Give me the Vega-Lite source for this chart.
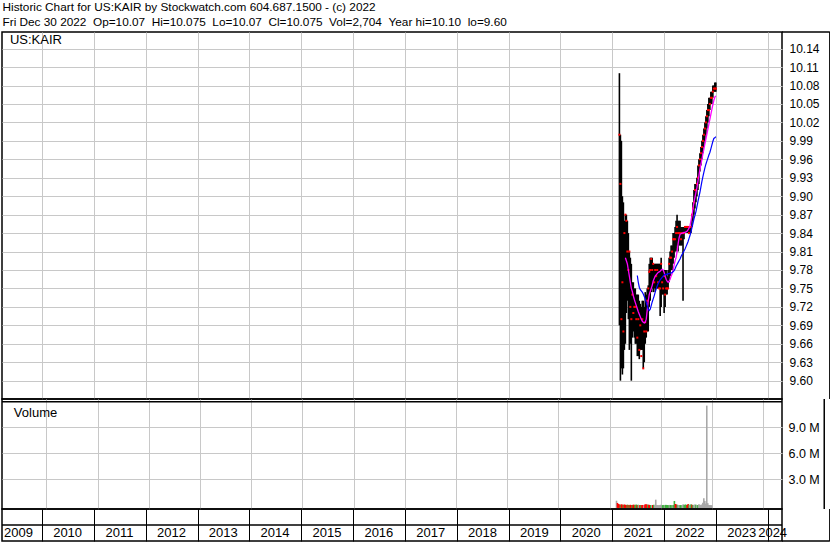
{
  "$schema": "https://vega.github.io/schema/vega-lite/v6.json",
  "padding": {"left": 0, "top": 2, "right": 0, "bottom": 0},
  "background": "white",
  "title": {
    "text": ["Historic Chart for US:KAIR by Stockwatch.com 604.687.1500 - (c) 2022", "Fri Dec 30 2022 \u00a0Op=10.07 \u00a0Hi=10.075 \u00a0Lo=10.07 \u00a0Cl=10.075 \u00a0Vol=2,704 \u00a0Year hi=10.10 \u00a0lo=9.60"],
    "anchor": "start", "font": "Liberation Sans", "fontSize": 11.8, "fontWeight": "normal", "color": "black", "lineHeight": 14.4, "offset": 2, "dx": 2
  },
  "datasets": {
    "w": [
      {"d":"2021-02-19","hi":10.10,"lo":9.69,"cl":10.00,"m1":null,"m2":null,"vol":530000,"dir":"flat"},
      {"d":"2021-02-26","hi":10.00,"lo":9.60,"cl":9.92,"m1":null,"m2":null,"vol":270000,"dir":"down"},
      {"d":"2021-03-05","hi":9.99,"lo":9.62,"cl":9.70,"m1":null,"m2":null,"vol":150000,"dir":"down"},
      {"d":"2021-03-12","hi":9.90,"lo":9.61,"cl":9.76,"m1":null,"m2":null,"vol":100000,"dir":"down"},
      {"d":"2021-03-19","hi":9.89,"lo":9.62,"cl":9.68,"m1":null,"m2":null,"vol":60000,"dir":"up"},
      {"d":"2021-03-26","hi":9.86,"lo":9.65,"cl":9.84,"m1":null,"m2":null,"vol":110000,"dir":"down"},
      {"d":"2021-04-02","hi":9.87,"lo":9.66,"cl":9.87,"m1":9.80,"m2":null,"vol":80000,"dir":"down"},
      {"d":"2021-04-09","hi":9.87,"lo":9.71,"cl":9.86,"m1":9.795,"m2":null,"vol":50000,"dir":"up"},
      {"d":"2021-04-16","hi":9.86,"lo":9.73,"cl":9.81,"m1":9.79,"m2":null,"vol":90000,"dir":"down"},
      {"d":"2021-04-23","hi":9.84,"lo":9.70,"cl":9.78,"m1":9.78,"m2":null,"vol":60000,"dir":"down"},
      {"d":"2021-04-30","hi":9.81,"lo":9.65,"cl":9.81,"m1":9.77,"m2":null,"vol":40000,"dir":"down"},
      {"d":"2021-05-07","hi":9.80,"lo":9.66,"cl":9.72,"m1":9.76,"m2":null,"vol":70000,"dir":"up"},
      {"d":"2021-05-14","hi":9.79,"lo":9.60,"cl":9.70,"m1":9.75,"m2":null,"vol":50000,"dir":"down"},
      {"d":"2021-05-21","hi":9.76,"lo":9.67,"cl":9.74,"m1":9.745,"m2":null,"vol":30000,"dir":"up"},
      {"d":"2021-05-28","hi":9.76,"lo":9.68,"cl":9.71,"m1":9.738,"m2":null,"vol":60000,"dir":"down"},
      {"d":"2021-06-04","hi":9.75,"lo":9.67,"cl":9.72,"m1":9.732,"m2":null,"vol":40000,"dir":"down"},
      {"d":"2021-06-11","hi":9.75,"lo":9.66,"cl":9.72,"m1":9.727,"m2":null,"vol":30000,"dir":"up"},
      {"d":"2021-06-18","hi":9.74,"lo":9.66,"cl":9.70,"m1":9.722,"m2":null,"vol":50000,"dir":"down"},
      {"d":"2021-06-25","hi":9.74,"lo":9.64,"cl":9.67,"m1":9.717,"m2":9.771,"vol":60000,"dir":"down"},
      {"d":"2021-07-02","hi":9.74,"lo":9.64,"cl":9.70,"m1":9.712,"m2":9.76,"vol":40000,"dir":"up"},
      {"d":"2021-07-09","hi":9.73,"lo":9.635,"cl":9.65,"m1":9.708,"m2":9.752,"vol":80000,"dir":"up"},
      {"d":"2021-07-16","hi":9.725,"lo":9.65,"cl":9.69,"m1":9.704,"m2":9.748,"vol":30000,"dir":"down"},
      {"d":"2021-07-23","hi":9.72,"lo":9.65,"cl":9.64,"m1":9.70,"m2":9.746,"vol":50000,"dir":"up"},
      {"d":"2021-07-30","hi":9.73,"lo":9.65,"cl":9.70,"m1":9.697,"m2":9.744,"vol":40000,"dir":"flat"},
      {"d":"2021-08-06","hi":9.73,"lo":9.62,"cl":9.62,"m1":9.695,"m2":9.741,"vol":30000,"dir":"down"},
      {"d":"2021-08-13","hi":9.72,"lo":9.63,"cl":9.68,"m1":9.694,"m2":9.737,"vol":20000,"dir":"up"},
      {"d":"2021-08-20","hi":9.744,"lo":9.66,"cl":9.695,"m1":9.695,"m2":9.733,"vol":30000,"dir":"down"},
      {"d":"2021-08-27","hi":9.74,"lo":9.67,"cl":9.68,"m1":9.70,"m2":9.727,"vol":40000,"dir":"down"},
      {"d":"2021-09-03","hi":9.75,"lo":9.68,"cl":9.73,"m1":9.715,"m2":9.722,"vol":20000,"dir":"flat"},
      {"d":"2021-09-10","hi":9.755,"lo":9.68,"cl":9.75,"m1":9.73,"m2":9.716,"vol":100000,"dir":"down"},
      {"d":"2021-09-17","hi":9.79,"lo":9.72,"cl":9.777,"m1":9.74,"m2":9.714,"vol":110000,"dir":"down"},
      {"d":"2021-09-24","hi":9.80,"lo":9.73,"cl":9.78,"m1":9.745,"m2":9.716,"vol":90000,"dir":"down"},
      {"d":"2021-10-01","hi":9.80,"lo":9.744,"cl":9.798,"m1":9.75,"m2":9.722,"vol":70000,"dir":"up"},
      {"d":"2021-10-08","hi":9.80,"lo":9.75,"cl":9.78,"m1":9.755,"m2":9.728,"vol":50000,"dir":"down"},
      {"d":"2021-10-15","hi":9.79,"lo":9.744,"cl":9.79,"m1":9.762,"m2":9.733,"vol":40000,"dir":"down"},
      {"d":"2021-10-22","hi":9.79,"lo":9.75,"cl":9.76,"m1":9.766,"m2":9.738,"vol":30000,"dir":"up"},
      {"d":"2021-10-29","hi":9.79,"lo":9.744,"cl":9.78,"m1":9.77,"m2":9.744,"vol":20000,"dir":"flat"},
      {"d":"2021-11-05","hi":9.79,"lo":9.75,"cl":9.77,"m1":9.772,"m2":9.749,"vol":40000,"dir":"down"},
      {"d":"2021-11-12","hi":9.79,"lo":9.75,"cl":9.78,"m1":9.774,"m2":9.754,"vol":60000,"dir":"up"},
      {"d":"2021-11-19","hi":9.79,"lo":9.75,"cl":9.76,"m1":9.776,"m2":9.758,"vol":30000,"dir":"flat"},
      {"d":"2021-11-26","hi":9.79,"lo":9.75,"cl":9.75,"m1":9.777,"m2":9.761,"vol":650000,"dir":"flat"},
      {"d":"2021-12-03","hi":9.79,"lo":9.705,"cl":9.75,"m1":9.778,"m2":9.764,"vol":40000,"dir":"flat"},
      {"d":"2021-12-10","hi":9.80,"lo":9.72,"cl":9.79,"m1":9.78,"m2":9.766,"vol":30000,"dir":"flat"},
      {"d":"2021-12-17","hi":9.78,"lo":9.74,"cl":9.76,"m1":9.781,"m2":9.768,"vol":20000,"dir":"flat"},
      {"d":"2021-12-24","hi":9.78,"lo":9.74,"cl":9.75,"m1":9.78,"m2":9.77,"vol":30000,"dir":"flat"},
      {"d":"2021-12-31","hi":9.78,"lo":9.71,"cl":9.77,"m1":9.776,"m2":9.772,"vol":60000,"dir":"flat"},
      {"d":"2022-01-07","hi":9.78,"lo":9.72,"cl":9.74,"m1":9.77,"m2":9.773,"vol":30000,"dir":"flat"},
      {"d":"2022-01-14","hi":9.78,"lo":9.74,"cl":9.75,"m1":9.765,"m2":9.773,"vol":20000,"dir":"up"},
      {"d":"2022-01-21","hi":9.77,"lo":9.74,"cl":9.75,"m1":9.762,"m2":9.773,"vol":40000,"dir":"up"},
      {"d":"2022-01-28","hi":9.78,"lo":9.75,"cl":9.75,"m1":9.76,"m2":9.774,"vol":30000,"dir":"flat"},
      {"d":"2022-02-04","hi":9.80,"lo":9.76,"cl":9.79,"m1":9.762,"m2":9.774,"vol":50000,"dir":"up"},
      {"d":"2022-02-11","hi":9.81,"lo":9.77,"cl":9.80,"m1":9.765,"m2":9.775,"vol":40000,"dir":"up"},
      {"d":"2022-02-18","hi":9.82,"lo":9.78,"cl":9.80,"m1":9.77,"m2":9.775,"vol":30000,"dir":"up"},
      {"d":"2022-02-25","hi":9.82,"lo":9.78,"cl":9.81,"m1":9.774,"m2":9.776,"vol":20000,"dir":"up"},
      {"d":"2022-03-04","hi":9.84,"lo":9.79,"cl":9.83,"m1":9.78,"m2":9.777,"vol":40000,"dir":"flat"},
      {"d":"2022-03-11","hi":9.84,"lo":9.80,"cl":9.83,"m1":9.788,"m2":9.779,"vol":30000,"dir":"up"},
      {"d":"2022-03-18","hi":9.85,"lo":9.81,"cl":9.83,"m1":9.795,"m2":9.782,"vol":20000,"dir":"up"},
      {"d":"2022-03-25","hi":9.86,"lo":9.81,"cl":9.84,"m1":9.80,"m2":9.786,"vol":30000,"dir":"flat"},
      {"d":"2022-04-01","hi":9.87,"lo":9.82,"cl":9.85,"m1":9.81,"m2":9.789,"vol":30000,"dir":"up"},
      {"d":"2022-04-08","hi":9.86,"lo":9.81,"cl":9.84,"m1":9.822,"m2":9.792,"vol":500000,"dir":"up"},
      {"d":"2022-04-15","hi":9.86,"lo":9.82,"cl":9.84,"m1":9.832,"m2":9.795,"vol":150000,"dir":"down"},
      {"d":"2022-04-22","hi":9.86,"lo":9.82,"cl":9.84,"m1":9.838,"m2":9.798,"vol":100000,"dir":"down"},
      {"d":"2022-04-29","hi":9.85,"lo":9.82,"cl":9.83,"m1":9.839,"m2":9.802,"vol":60000,"dir":"up"},
      {"d":"2022-05-06","hi":9.85,"lo":9.82,"cl":9.84,"m1":9.84,"m2":9.805,"vol":40000,"dir":"flat"},
      {"d":"2022-05-13","hi":9.85,"lo":9.73,"cl":9.84,"m1":9.84,"m2":9.808,"vol":30000,"dir":"flat"},
      {"d":"2022-05-20","hi":9.85,"lo":9.83,"cl":9.84,"m1":9.841,"m2":9.811,"vol":20000,"dir":"up"},
      {"d":"2022-05-27","hi":9.85,"lo":9.84,"cl":9.85,"m1":9.841,"m2":9.814,"vol":30000,"dir":"up"},
      {"d":"2022-06-03","hi":9.85,"lo":9.84,"cl":9.85,"m1":9.842,"m2":9.818,"vol":40000,"dir":"flat"},
      {"d":"2022-06-10","hi":9.85,"lo":9.84,"cl":9.85,"m1":9.843,"m2":9.822,"vol":120000,"dir":"flat"},
      {"d":"2022-06-17","hi":9.85,"lo":9.84,"cl":9.85,"m1":9.845,"m2":9.826,"vol":30000,"dir":"up"},
      {"d":"2022-06-24","hi":9.85,"lo":9.84,"cl":9.84,"m1":9.848,"m2":9.831,"vol":90000,"dir":"up"},
      {"d":"2022-07-01","hi":9.85,"lo":9.84,"cl":9.85,"m1":9.852,"m2":9.836,"vol":70000,"dir":"up"},
      {"d":"2022-07-08","hi":9.85,"lo":9.84,"cl":9.85,"m1":9.86,"m2":9.842,"vol":40000,"dir":"down"},
      {"d":"2022-07-15","hi":9.87,"lo":9.85,"cl":9.87,"m1":9.868,"m2":9.849,"vol":140000,"dir":"down"},
      {"d":"2022-07-22","hi":9.89,"lo":9.86,"cl":9.88,"m1":9.88,"m2":9.856,"vol":60000,"dir":"up"},
      {"d":"2022-07-29","hi":9.91,"lo":9.87,"cl":9.89,"m1":9.89,"m2":9.863,"vol":40000,"dir":"flat"},
      {"d":"2022-08-05","hi":9.92,"lo":9.88,"cl":9.91,"m1":9.898,"m2":9.869,"vol":120000,"dir":"up"},
      {"d":"2022-08-12","hi":9.92,"lo":9.89,"cl":9.91,"m1":9.906,"m2":9.875,"vol":60000,"dir":"down"},
      {"d":"2022-08-19","hi":9.93,"lo":9.90,"cl":9.92,"m1":9.914,"m2":9.883,"vol":40000,"dir":"up"},
      {"d":"2022-08-26","hi":9.95,"lo":9.91,"cl":9.93,"m1":9.924,"m2":9.891,"vol":50000,"dir":"flat"},
      {"d":"2022-09-02","hi":9.96,"lo":9.92,"cl":9.95,"m1":9.934,"m2":9.899,"vol":100000,"dir":"flat"},
      {"d":"2022-09-09","hi":9.97,"lo":9.94,"cl":9.96,"m1":9.944,"m2":9.906,"vol":60000,"dir":"up"},
      {"d":"2022-09-16","hi":9.98,"lo":9.95,"cl":9.97,"m1":9.952,"m2":9.915,"vol":40000,"dir":"flat"},
      {"d":"2022-09-23","hi":9.99,"lo":9.96,"cl":9.98,"m1":9.96,"m2":9.924,"vol":30000,"dir":"up"},
      {"d":"2022-09-30","hi":10.00,"lo":9.97,"cl":9.99,"m1":9.969,"m2":9.932,"vol":110000,"dir":"flat"},
      {"d":"2022-10-07","hi":10.01,"lo":9.98,"cl":10.00,"m1":9.977,"m2":9.939,"vol":60000,"dir":"flat"},
      {"d":"2022-10-14","hi":10.02,"lo":9.99,"cl":10.01,"m1":9.985,"m2":9.946,"vol":40000,"dir":"flat"},
      {"d":"2022-10-21","hi":10.03,"lo":10.00,"cl":10.02,"m1":9.993,"m2":9.952,"vol":90000,"dir":"flat"},
      {"d":"2022-10-28","hi":10.04,"lo":10.01,"cl":10.03,"m1":10.001,"m2":9.957,"vol":300000,"dir":"flat"},
      {"d":"2022-11-04","hi":10.05,"lo":10.02,"cl":10.04,"m1":10.009,"m2":9.962,"vol":800000,"dir":"flat"},
      {"d":"2022-11-11","hi":10.06,"lo":10.03,"cl":10.04,"m1":10.017,"m2":9.967,"vol":500000,"dir":"flat"},
      {"d":"2022-11-18","hi":10.06,"lo":10.04,"cl":10.05,"m1":10.025,"m2":9.971,"vol":200000,"dir":"flat"},
      {"d":"2022-11-25","hi":10.07,"lo":10.05,"cl":10.06,"m1":10.033,"m2":9.977,"vol":11500000,"dir":"flat"},
      {"d":"2022-12-02","hi":10.07,"lo":10.05,"cl":10.06,"m1":10.041,"m2":9.983,"vol":250000,"dir":"flat"},
      {"d":"2022-12-09","hi":10.08,"lo":10.06,"cl":10.07,"m1":10.049,"m2":9.989,"vol":40000,"dir":"flat"},
      {"d":"2022-12-16","hi":10.08,"lo":10.07,"cl":10.075,"m1":10.056,"m2":9.994,"vol":30000,"dir":"flat"},
      {"d":"2022-12-23","hi":10.085,"lo":10.07,"cl":10.075,"m1":10.061,"m2":9.995,"vol":20000,"dir":"flat"},
      {"d":"2022-12-30","hi":10.085,"lo":10.07,"cl":10.075,"m1":10.063,"m2":9.997,"vol":10000,"dir":"flat"}
    ],
    "yrs": [
      {"yr":"2009","d":"2009-07-20"},{"yr":"2010","d":"2010-07-01"},{"yr":"2011","d":"2011-07-01"},
      {"yr":"2012","d":"2012-07-01"},{"yr":"2013","d":"2013-07-01"},{"yr":"2014","d":"2014-07-01"},
      {"yr":"2015","d":"2015-07-01"},{"yr":"2016","d":"2016-07-01"},{"yr":"2017","d":"2017-07-01"},
      {"yr":"2018","d":"2018-07-01"},{"yr":"2019","d":"2019-07-01"},{"yr":"2020","d":"2020-07-01"},
      {"yr":"2021","d":"2021-07-01"},{"yr":"2022","d":"2022-07-01"},{"yr":"2023","d":"2023-07-01"},
      {"yr":"2024","d":"2024-02-03"}
    ]
  },
  "spacing": 0,
  "bounds": "flush",
  "vconcat": [
    {
      "width": 780, "height": 367,
      "data": {"name": "w"},
      "layer": [
        {
          "mark": {"type": "rule", "color": "black", "strokeWidth": 1.6},
          "encoding": {
            "x": {"field": "d", "type": "temporal",
              "scale": {"domain": [{"year":2009,"month":3,"date":26},{"year":2024,"month":4,"date":9}]},
              "axis": {"values": [{"year":2010,"month":1,"date":1},{"year":2011,"month":1,"date":1},{"year":2012,"month":1,"date":1},{"year":2013,"month":1,"date":1},{"year":2014,"month":1,"date":1},{"year":2015,"month":1,"date":1},{"year":2016,"month":1,"date":1},{"year":2017,"month":1,"date":1},{"year":2018,"month":1,"date":1},{"year":2019,"month":1,"date":1},{"year":2020,"month":1,"date":1},{"year":2021,"month":1,"date":1},{"year":2022,"month":1,"date":1},{"year":2023,"month":1,"date":1},{"year":2024,"month":1,"date":1}],
                "tickCount": 40, "grid": true, "gridColor": "#c8c8c8", "gridWidth": 1, "labels": false, "ticks": false, "domain": false, "title": null}},
            "y": {"field": "lo", "type": "quantitative",
              "scale": {"domain": [9.5702, 10.167], "nice": false, "zero": false},
              "axis": {"orient": "right", "values": [9.6,9.63,9.66,9.69,9.72,9.75,9.78,9.81,9.84,9.87,9.9,9.93,9.96,9.99,10.02,10.05,10.08,10.11,10.14],
                "tickCount": 40, "format": ".2f", "grid": true, "gridColor": "#c8c8c8", "gridWidth": 1, "ticks": false, "domain": false, "labelOverlap": false,
                "labelPadding": 7, "labelFontSize": 12, "labelAlign": "left", "labelBaseline": "middle", "title": null}},
            "y2": {"field": "hi"}
          }
        },
        {
          "mark": {"type": "square", "color": "#ff0000", "size": 4, "opacity": 1, "filled": true},
          "encoding": {"x": {"field": "d", "type": "temporal"}, "y": {"field": "cl", "type": "quantitative"}}
        },
        {
          "mark": {"type": "line", "color": "#ff00ff", "strokeWidth": 1.3},
          "encoding": {"x": {"field": "d", "type": "temporal"}, "y": {"field": "m1", "type": "quantitative"}}
        },
        {
          "mark": {"type": "line", "color": "#0000ff", "strokeWidth": 1.2},
          "encoding": {"x": {"field": "d", "type": "temporal"}, "y": {"field": "m2", "type": "quantitative"}}
        },
        {
          "data": {"values": [{}]},
          "mark": {"type": "text", "text": "US:KAIR", "align": "left", "baseline": "alphabetic", "font": "Liberation Sans", "fontSize": 13, "color": "black"},
          "encoding": {"x": {"datum": {"year":2009,"month":5,"date":21}, "type": "temporal"}, "y": {"datum": 10.148, "type": "quantitative"}}
        },
        {
          "data": {"values": [{}]},
          "mark": {"type": "rule", "color": "black", "strokeWidth": 1.5},
          "encoding": {"x": {"datum": {"year":2024,"month":4,"date":9}, "type": "temporal"}, "x2": {"datum": {"year":2025,"month":3,"date":12}}, "y": {"datum": 10.167, "type": "quantitative"}}
        },
        {
          "data": {"values": [{}]},
          "mark": {"type": "rule", "color": "black", "strokeWidth": 1.5},
          "encoding": {"x": {"datum": {"year":2025,"month":3,"date":12}, "type": "temporal"}}
        }
      ]
    },
    {
      "width": 780, "height": 110,
      "data": {"name": "w"},
      "layer": [
        {
          "mark": {"type": "bar", "size": 1.6},
          "encoding": {
            "x": {"field": "d", "type": "temporal",
              "scale": {"domain": [{"year":2009,"month":3,"date":26},{"year":2024,"month":4,"date":9}]},
              "axis": {"values": [{"year":2010,"month":1,"date":1},{"year":2011,"month":1,"date":1},{"year":2012,"month":1,"date":1},{"year":2013,"month":1,"date":1},{"year":2014,"month":1,"date":1},{"year":2015,"month":1,"date":1},{"year":2016,"month":1,"date":1},{"year":2017,"month":1,"date":1},{"year":2018,"month":1,"date":1},{"year":2019,"month":1,"date":1},{"year":2020,"month":1,"date":1},{"year":2021,"month":1,"date":1},{"year":2022,"month":1,"date":1},{"year":2023,"month":1,"date":1},{"year":2024,"month":1,"date":1}],
                "tickCount": 40, "grid": true, "gridColor": "#c8c8c8", "gridWidth": 1, "labels": false, "ticks": false, "domain": false, "title": null}},
            "y": {"field": "vol", "type": "quantitative",
              "scale": {"domain": [-426900, 12265000], "nice": false, "zero": false},
              "axis": {"orient": "right", "values": [3000000, 6000000, 9000000], "tickCount": 10,
                "labelExpr": "format(datum.value / 1000000, '.1f') + ' M'",
                "grid": true, "gridColor": "#c8c8c8", "gridWidth": 1, "ticks": false, "domain": false, "labelOverlap": false,
                "labelPadding": 6, "labelFontSize": 12.5, "labelAlign": "left", "labelBaseline": "middle", "title": null}},
            "y2": {"datum": -300000},
            "color": {"field": "dir", "type": "nominal", "legend": null,
              "scale": {"domain": ["up", "down", "flat"], "range": ["#3cb43c", "#ff0000", "#a8a8a8"]}}
          }
        },
        {
          "data": {"values": [{}]},
          "mark": {"type": "rule", "color": "black", "strokeWidth": 1.5},
          "encoding": {"y": {"datum": 11948000, "type": "quantitative"}}
        },
        {
          "data": {"values": [{}]},
          "mark": {"type": "text", "text": "Volume", "align": "left", "baseline": "alphabetic", "font": "Liberation Sans", "fontSize": 13, "color": "black"},
          "encoding": {"x": {"datum": {"year":2009,"month":5,"date":14}, "type": "temporal"}, "y": {"datum": 10190000, "type": "quantitative"}}
        },
        {
          "data": {"values": [{}]},
          "mark": {"type": "rule", "color": "black", "strokeWidth": 1.5},
          "encoding": {"x": {"datum": {"year":2025,"month":3,"date":12}, "type": "temporal"}}
        }
      ]
    },
    {
      "width": 780, "height": 32,
      "data": {"name": "yrs"},
      "layer": [
        {
          "mark": {"type": "text", "font": "Liberation Sans", "fontSize": 13, "color": "black", "baseline": "middle", "align": "center"},
          "encoding": {
            "x": {"field": "d", "type": "temporal",
              "scale": {"domain": [{"year":2009,"month":3,"date":26},{"year":2024,"month":4,"date":9}]},
              "axis": {"values": [{"year":2010,"month":1,"date":1},{"year":2011,"month":1,"date":1},{"year":2012,"month":1,"date":1},{"year":2013,"month":1,"date":1},{"year":2014,"month":1,"date":1},{"year":2015,"month":1,"date":1},{"year":2016,"month":1,"date":1},{"year":2017,"month":1,"date":1},{"year":2018,"month":1,"date":1},{"year":2019,"month":1,"date":1},{"year":2020,"month":1,"date":1},{"year":2021,"month":1,"date":1},{"year":2022,"month":1,"date":1},{"year":2023,"month":1,"date":1},{"year":2024,"month":1,"date":1}],
                "tickCount": 40, "grid": true, "gridColor": "black", "gridWidth": 1, "labels": false, "ticks": false, "domain": false, "title": null}},
            "y": {"datum": 0.5, "type": "quantitative", "scale": {"domain": [0, 2], "nice": false, "zero": false}, "axis": null},
            "text": {"field": "yr"}
          }
        },
        {
          "data": {"values": [{}]},
          "mark": {"type": "rule", "color": "black", "strokeWidth": 1.5},
          "encoding": {"y": {"datum": 1, "type": "quantitative"}}
        },
        {
          "data": {"values": [{}]},
          "mark": {"type": "rule", "color": "black", "strokeWidth": 1.5},
          "encoding": {"x": {"datum": {"year":2025,"month":3,"date":12}, "type": "temporal"}}
        },
        {
          "data": {"values": [{}]},
          "mark": {"type": "rule", "color": "black", "strokeWidth": 1.5},
          "encoding": {"x": {"datum": {"year":2024,"month":4,"date":9}, "type": "temporal"}, "x2": {"datum": {"year":2025,"month":3,"date":12}}, "y": {"datum": 0, "type": "quantitative"}}
        }
      ]
    }
  ],
  "config": {
    "view": {"stroke": "black", "strokeWidth": 1.5},
    "axis": {"labelFont": "Liberation Sans", "labelColor": "black", "labelFontSize": 12, "labelOverlap": false},
    "text": {"font": "Liberation Sans"}
  }
}
